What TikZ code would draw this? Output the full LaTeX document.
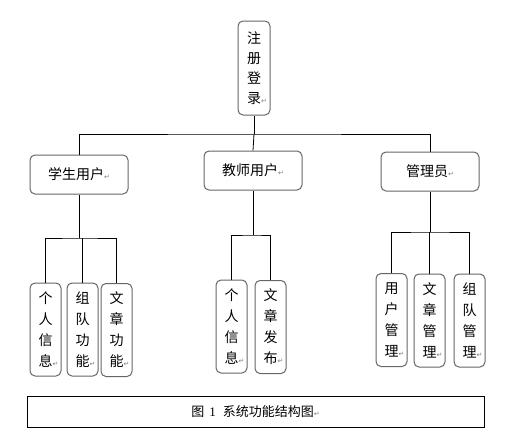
\documentclass[tikz,border=0pt]{standalone}
\usepackage{fontspec}
\setmainfont{Noto Sans CJK SC}
\newfontfamily\symfont{DejaVu Sans}
\newfontfamily\numfont{Liberation Serif}
\usetikzlibrary{positioning}

\newcommand{\ret}{{\symfont\fontsize{7}{7}\selectfont\color{gray}↵}}

\tikzset{
	box/.style={draw=black!60, line width=1pt, rounded corners=5pt, align=center, inner sep=0pt, font=\fontsize{14}{21}\selectfont},
	leaf/.style={box, minimum width=31pt, minimum height=93pt},
	role/.style={box, minimum width=98pt, minimum height=39pt},
	link/.style={line width=0.8pt}
}

\begin{document}
\begin{tikzpicture}[x=1pt, y=-1pt]
		\useasboundingbox (0,0) rectangle (517,447);
		% top node
		\node[box, minimum width=32pt, minimum height=94pt, font=\fontsize{14}{20}\selectfont] (reg) at (254,68) {注\\册\\登\\录\rlap{\ret}};
		% roles
		\node[role] (stu) at (79,174.5) {学生用户\ret};
		\node[role] (tea) at (253,170.5) {教师用户\ret};
		\node[role] (adm) at (430,171.5) {管理员\ret};
		% student functions
		\node[leaf] (s1) at (45.5,329.5) {个\\人\\信\\息\rlap{\ret}};
		\node[leaf] (s2) at (82.5,329.5) {组\\队\\功\\能\rlap{\ret}};
		\node[leaf] (s3) at (116.5,330) {文\\章\\功\\能\rlap{\ret}};
		% teacher functions
		\node[leaf] (t1) at (231.5,326.5) {个\\人\\信\\息\rlap{\ret}};
		\node[leaf] (t2) at (270.5,327) {文\\章\\发\\布\rlap{\ret}};
		% admin functions
		\node[leaf] (a1) at (391.5,320) {用\\户\\管\\理\rlap{\ret}};
		\node[leaf] (a2) at (429.5,320.5) {文\\章\\管\\理\rlap{\ret}};
		\node[leaf] (a3) at (469.5,320.5) {组\\队\\管\\理\rlap{\ret}};
		% caption
		\node[draw, line width=0.8pt, minimum width=457pt, minimum height=31pt, font=\fontsize{13}{13}\selectfont] (cap) at (255.5,411.5) {图\hspace{5pt}{\numfont 1}\hspace{7pt}系统功能结构图\ret};
		% links
		\coordinate (bus) at (254,134);
		\draw[link] (reg.south) -- (bus);
		\draw[link] (stu.north) |- (bus) -| (adm.north);
		\draw[link] (bus) -- (tea.north);
		\coordinate (sbus) at (79,238);
		\draw[link] (stu.south) -- (sbus);
		\draw[link] (s1.north) |- (sbus) -| (s3.north);
		\draw[link] (s2.north) -- (s2.north |- sbus);
		\coordinate (tbus) at (253,235);
		\draw[link] (tea.south) -- (tbus);
		\draw[link] (t1.north) |- (tbus) -| (t2.north);
		\coordinate (abus) at (430,232);
		\draw[link] (adm.south) -- (abus);
		\draw[link] (a1.north) |- (abus) -| (a3.north);
		\draw[link] (a2.north) -- (a2.north |- abus);
\end{tikzpicture}
\end{document}
